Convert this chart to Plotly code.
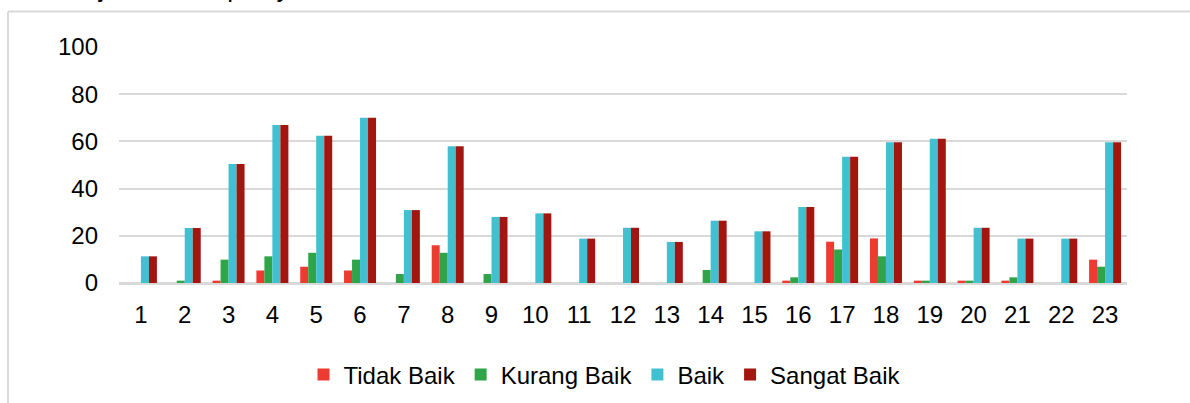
import plotly.graph_objects as go

# Survey items and response percentages per rating
categories = [str(i) for i in range(1, 24)]

tidak_baik = [0, 0, 1, 5.3, 6.9, 5.3, 0, 16, 0, 0, 0, 0, 0, 0, 0, 1, 17.5, 18.9, 1, 1, 1, 0, 9.9]
kurang_baik = [0, 1, 9.9, 11.3, 12.8, 9.9, 3.8, 12.8, 3.8, 0, 0, 0, 0, 5.5, 0, 2.4, 14.2, 11.3, 1, 1, 2.4, 0, 6.9]
baik = [11.3, 23.3, 50.4, 66.9, 62.4, 70, 30.9, 57.9, 28, 29.5, 18.8, 23.4, 17.4, 26.4, 21.9, 32.2, 53.5, 59.6, 61.1, 23.4, 18.8, 18.8, 59.6]
sangat_baik = list(baik)

series = [
    ("Tidak Baik", tidak_baik, "#ee3b31"),
    ("Kurang Baik", kurang_baik, "#2fa449"),
    ("Baik", baik, "#40c0d0"),
    ("Sangat Baik", sangat_baik, "#a3150f"),
]

y_ticks = [0, 20, 40, 60, 80, 100]

fig = go.Figure()
for name, values, color in series:
    fig.add_trace(go.Bar(
        name=name, x=categories, y=values,
        marker=dict(color=color, line=dict(width=0)),
    ))

font_family = "Liberation Sans, Arial, sans-serif"

# pixel geometry of the plotting area
W, H = 1190, 403
ML, MR, MT, MB = 119, 63, 47, 120
plot_w = W - ML - MR
plot_h = H - MT - MB


def px_x(x):
    return (x - ML) / plot_w


def px_y(y):
    return (H - MB - y) / plot_h


fig.update_layout(
    width=W, height=H,
    margin=dict(l=ML, r=MR, t=MT, b=MB, autoexpand=False),
    paper_bgcolor="white", plot_bgcolor="white",
    barmode="group", bargap=0.27, bargroupgap=0,
    font=dict(family=font_family, size=24, color="#000000"),
    showlegend=True,
    legend=dict(
        orientation="h", xref="container", yref="container",
        x=605 / W, xanchor="center", y=(H - 375) / H, yanchor="middle",
        font=dict(size=24), itemwidth=30, traceorder="normal",
    ),
    xaxis=dict(
        type="category", showgrid=False, showline=False, zeroline=False,
        ticks="", tickfont=dict(size=24), ticklabelstandoff=15,
    ),
    yaxis=dict(
        range=[0, 100], tickvals=y_ticks, ticktext=[str(v) for v in y_ticks],
        showgrid=True, gridcolor="#d9d9d9", gridwidth=2,
        zeroline=True, zerolinecolor="#d9d9d9", zerolinewidth=3,
        showline=False, ticks="", tickfont=dict(size=24), ticklabelstandoff=20,
    ),
    shapes=[
        # outer frame: top and left edges
        dict(type="line", xref="paper", yref="paper", x0=px_x(8), x1=px_x(W),
             y0=px_y(11.5), y1=px_y(11.5), line=dict(color="#d9d9d9", width=2)),
        dict(type="line", xref="paper", yref="paper", x0=px_x(8), x1=px_x(8),
             y0=px_y(11.5), y1=px_y(H), line=dict(color="#d9d9d9", width=2)),
    ],
    annotations=[
        dict(text="Kinerja dan tata pelayanan", xref="paper", yref="paper",
             x=px_x(36), y=px_y(5), xanchor="left", yanchor="bottom", showarrow=False,
             font=dict(size=26, color="#000000")),
    ],
)

fig.write_html("out.html")
